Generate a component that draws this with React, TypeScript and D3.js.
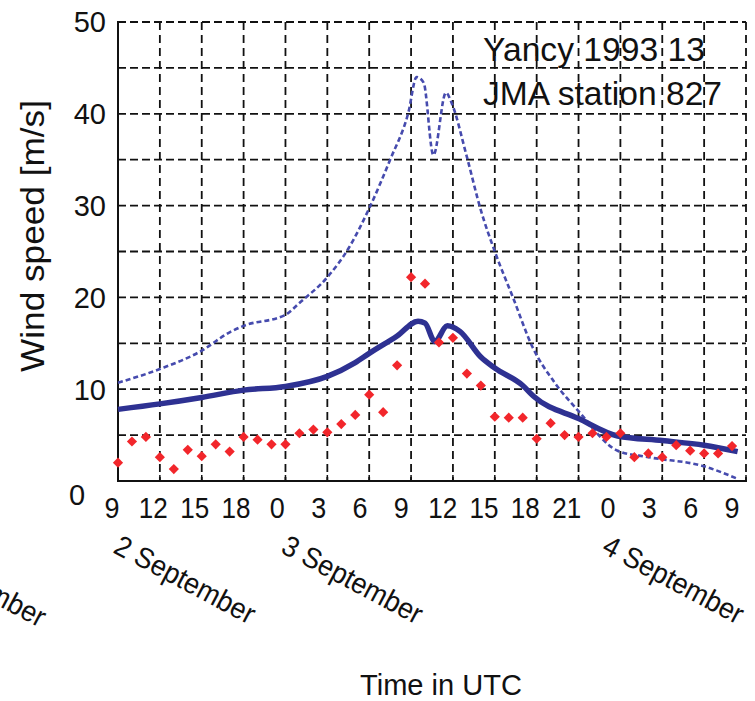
import React, { useRef, useEffect } from "react";
import * as d3 from "d3";

// x tick labels (UTC hour), one every 3 h starting 2 Sep 09 UTC
const tickLabels = ["9", "12", "15", "18", "0", "3", "6", "9", "12", "15", "18", "21", "0", "3", "6", "9"];
const dayLabels = ["1 September", "2 September", "3 September", "4 September"];
const dayHours = [-15, 0, 12, 35];
const yTicks = [10, 20, 30, 40, 50];

// hourly observations (red diamonds)
const observed = [
  2.0, 4.3, 4.8, 2.6, 1.3, 3.4, 2.7, 4.0, 3.2, 4.8, 4.5, 4.0, 4.0, 5.2, 5.6,
  5.3, 6.2, 7.2, 9.4, 7.5, 12.6, 22.2, 21.5, 15.1, 15.6, 11.7, 10.4, 7.0, 6.9,
  6.9, 4.6, 6.3, 5.0, 4.8, 5.2, 4.8, 5.2, 2.6, 3.0, 2.6, 3.9, 3.3, 3.0, 3.0, 3.8,
];

// solid line (thick)
const solidHours = [0, 3, 6, 9, 12, 15, 17, 18, 20, 21.5, 22, 22.7, 23.6, 24.5, 26, 27, 29, 29.8, 33, 35.8, 39, 42, 44.4];
const solidValues = [7.8, 8.4, 9.1, 9.9, 10.3, 11.4, 12.9, 13.9, 15.8, 17.4, 17.2, 15.2, 16.9, 16.3, 13.5, 12.3, 10.4, 9.2, 6.8, 4.9, 4.4, 3.9, 3.2];

// dashed line
const dashHours = [0, 3, 6, 8, 9, 12, 13, 15, 16.5, 18, 19.5, 20.8, 21.4, 21.9, 22.6, 23.5, 23.9, 25, 26, 27, 28.3, 29.7, 31.3, 33, 35.8, 38, 42, 44.3];
const dashValues = [10.7, 12.2, 14.2, 16.2, 16.9, 18.1, 19.4, 22.2, 25.3, 29.7, 35.0, 40.1, 44.0, 43.4, 35.5, 42.3, 41.2, 35.3, 29.5, 25.0, 20.0, 14.6, 10.7, 7.6, 3.3, 2.6, 1.6, 0.3];

const titleLines = ["Yancy 1993 13", "JMA station 827"];

const FONT = "'Liberation Sans', Arial, Helvetica, sans-serif";

const WindChart = () => {
  const svgRef = useRef<SVGSVGElement | null>(null);

  useEffect(() => {
    document.body.style.margin = "0";
    const svg = d3.select(svgRef.current);
    svg.selectAll("*").remove();

    const width = 755;
    const height = 701;
    const left = 118, right = 746, top = 22, bottom = 481;

    const x = d3.scaleLinear().domain([0, 45]).range([left, right]);
    const xLabel = d3.scaleLinear().domain([0, 45]).range([112, 732]);
    const y = d3.scaleLinear().domain([0, 50]).range([bottom, top]);

    svg.attr("width", width).attr("height", height).attr("viewBox", `0 0 ${width} ${height}`);
    svg.append("rect").attr("width", width).attr("height", height).attr("fill", "#fff");

    // dashed grid
    const grid = svg.append("g").attr("stroke", "#111").attr("stroke-width", 1.8).attr("fill", "none");
    d3.range(5, 51, 5).forEach((v) => {
      grid.append("line")
        .attr("x1", left).attr("x2", right)
        .attr("y1", y(v)).attr("y2", y(v))
        .attr("stroke-dasharray", "8,4");
    });
    tickLabels.forEach((_, i) => {
      if (i === 0) return;
      grid.append("line")
        .attr("x1", x(i * 3)).attr("x2", x(i * 3))
        .attr("y1", top).attr("y2", bottom)
        .attr("stroke-dasharray", "8,5");
    });

    // axes
    const axis = svg.append("g").attr("stroke", "#111").attr("stroke-width", 2).attr("fill", "none");
    axis.append("line").attr("x1", left).attr("x2", left).attr("y1", top - 1).attr("y2", bottom + 1);
    axis.append("line").attr("x1", left - 1).attr("x2", right + 1).attr("y1", bottom).attr("y2", bottom);
    tickLabels.forEach((_, i) => {
      axis.append("line")
        .attr("x1", x(i * 3)).attr("x2", x(i * 3))
        .attr("y1", bottom).attr("y2", bottom - 6)
        .attr("stroke-width", 1.5);
    });

    // y tick labels
    const yt = svg.append("g").attr("font-family", FONT).attr("font-size", 29).attr("fill", "#111");
    yTicks.forEach((v) => {
      yt.append("text")
        .attr("x", 106).attr("y", y(v))
        .attr("dy", "0.36em")
        .attr("text-anchor", "end")
        .text(v);
    });
    yt.append("text").attr("x", 77).attr("y", 505).attr("text-anchor", "middle").text("0");

    // x tick labels
    tickLabels.forEach((t, i) => {
      yt.append("text")
        .attr("x", xLabel(i * 3)).attr("y", 518)
        .attr("text-anchor", "middle")
        .attr("textLength", t.length > 1 ? 29 : 15)
        .attr("lengthAdjust", "spacingAndGlyphs")
        .text(t);
    });

    // rotated day labels
    dayLabels.forEach((t, i) => {
      const px = x(dayHours[i]) - 6;
      const py = i === 0 ? 555 : 552;
      yt.append("text")
        .attr("transform", `translate(${px},${py}) rotate(28)`)
        .attr("textLength", 155)
        .attr("lengthAdjust", "spacingAndGlyphs")
        .text(t);
    });

    // axis titles
    yt.append("text")
      .attr("text-anchor", "middle")
      .attr("transform", `translate(44,236) rotate(-90)`)
      .attr("font-size", 33)
      .attr("textLength", 272)
      .attr("lengthAdjust", "spacingAndGlyphs")
      .text("Wind speed [m/s]");
    yt.append("text")
      .attr("x", 441).attr("y", 695)
      .attr("text-anchor", "middle")
      .attr("textLength", 162)
      .attr("lengthAdjust", "spacingAndGlyphs")
      .text("Time in UTC");

    // title box text
    const titleWidths = [222, 239];
    const titleY = [61, 105];
    titleLines.forEach((t, i) => {
      yt.append("text")
        .attr("x", 483).attr("y", titleY[i])
        .attr("font-size", 34)
        .attr("textLength", titleWidths[i])
        .attr("lengthAdjust", "spacingAndGlyphs")
        .text(t);
    });

    // lines
    const dashLine = d3.line<number>()
      .x((_, i) => x(dashHours[i]))
      .y((d) => y(d))
      .curve(d3.curveMonotoneX);
    svg.append("path")
      .attr("d", dashLine(dashValues))
      .attr("fill", "none")
      .attr("stroke", "#464bae")
      .attr("stroke-width", 2.6)
      .attr("stroke-dasharray", "5,3");

    const solidLine = d3.line<number>()
      .x((_, i) => x(solidHours[i]))
      .y((d) => y(d))
      .curve(d3.curveMonotoneX);
    svg.append("path")
      .attr("d", solidLine(solidValues))
      .attr("fill", "none")
      .attr("stroke", "#2e3192")
      .attr("stroke-width", 5.5)
      .attr("stroke-linejoin", "round");

    // observations
    const diamond = d3.symbol().type(d3.symbolSquare).size(52);
    svg.append("g")
      .selectAll("path")
      .data(observed)
      .enter()
      .append("path")
      .attr("d", diamond())
      .attr("transform", (d, i) => `translate(${x(i)},${y(d)}) rotate(45)`)
      .attr("fill", "#f2262b");
  }, []);

  return <svg ref={svgRef} style={{ display: "block" }}></svg>;
};

export default function App() {
  return <WindChart />;
}
